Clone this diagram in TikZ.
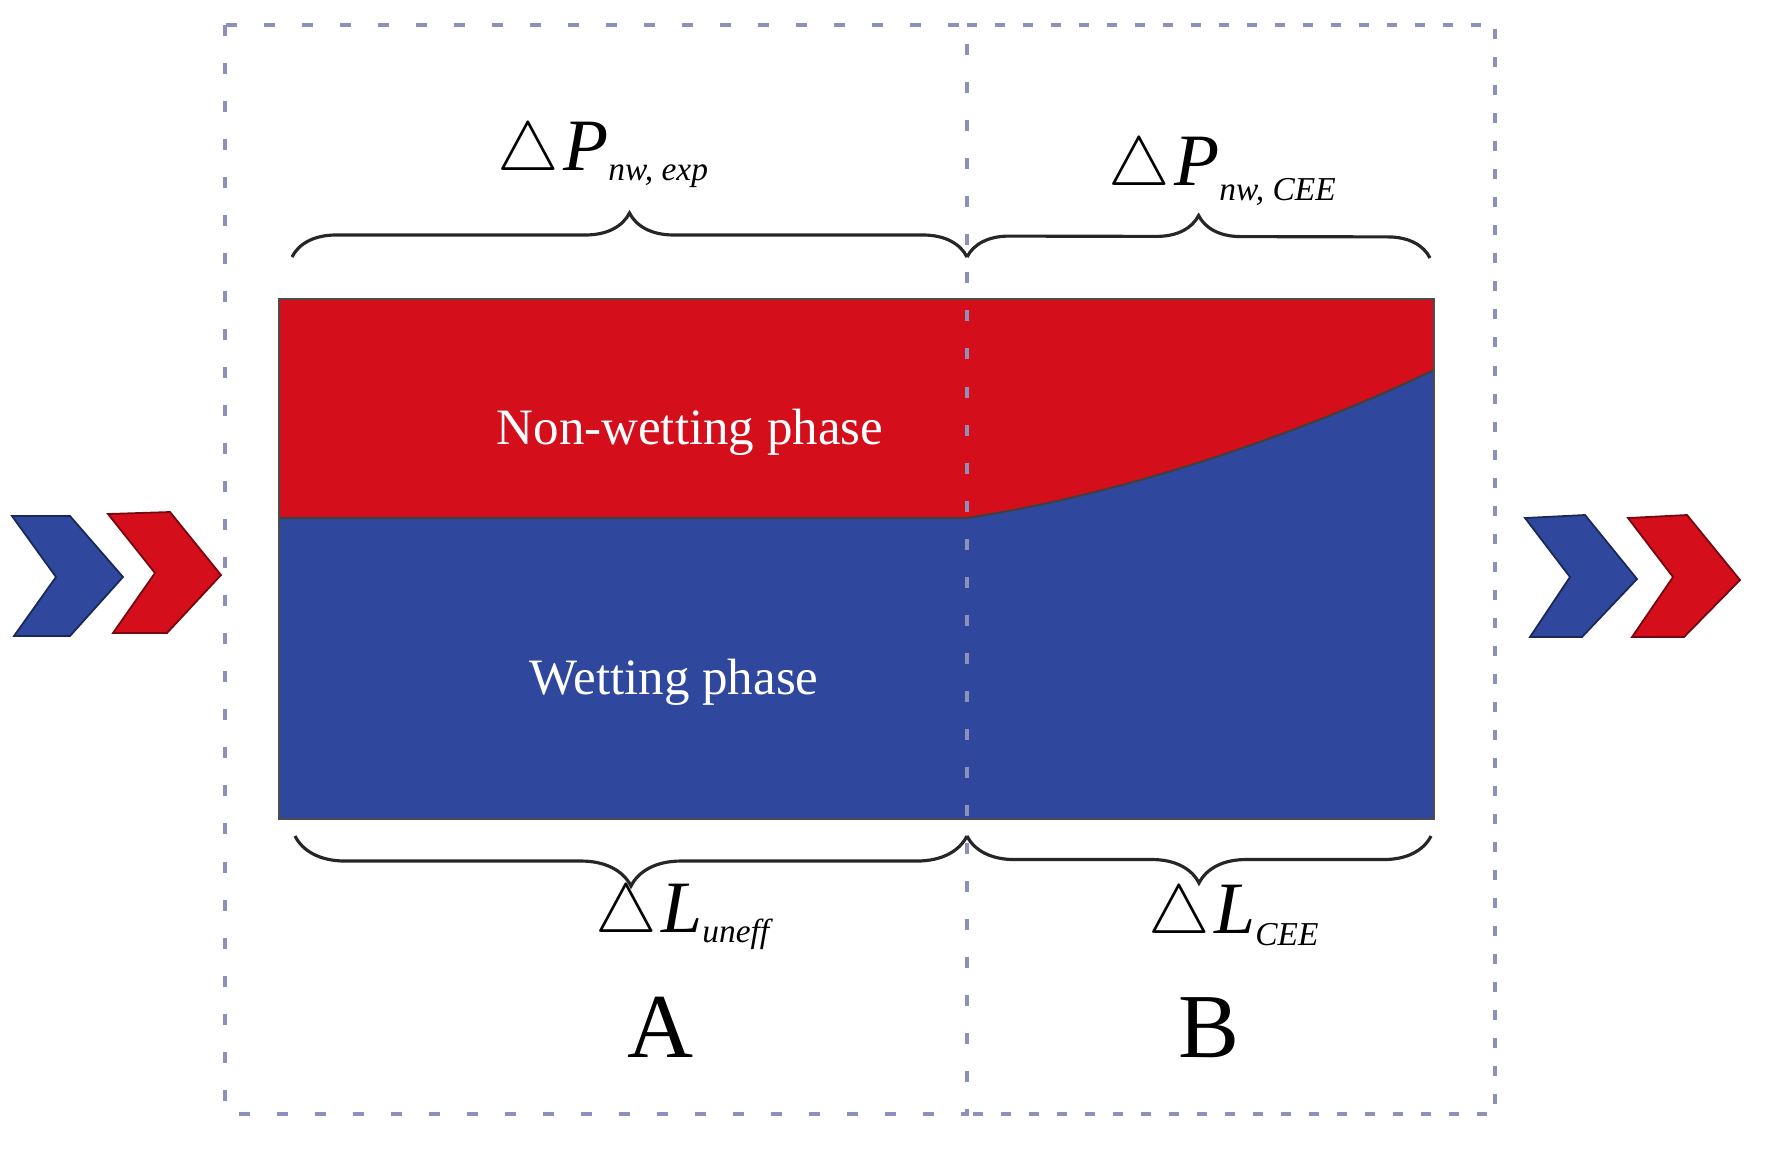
\documentclass[tikz,border=0pt]{standalone}
\usepackage{fontspec}
\setmainfont{Liberation Serif}
\usetikzlibrary{decorations.pathreplacing}
\definecolor{nwred}{RGB}{213,14,28}
\definecolor{wblue}{RGB}{47,72,158}
\definecolor{dashc}{RGB}{140,144,186}
\newcommand{\tri}{\scalebox{0.95}{$\triangle$}}
\newcommand{\subtxt}[2]{\raisebox{#1}{\fontsize{9.5}{10}\selectfont\textit{#2}}}
\begin{document}
\begin{tikzpicture}[x=0.01cm,y=-0.01cm,
  boxline/.style={dashc, line width=1.1pt, dash pattern=on 0.11cm off 0.27cm},
  boxlineB/.style={dashc, line width=1.1pt, dash pattern=on 0.10cm off 0.18cm},
  brc/.style={decorate, line width=0.9pt, black!85},
  chevblue/.style={fill=wblue, draw=wblue!55!black, line width=0.5pt},
  chevred/.style={fill=nwred, draw=nwred!55!black, line width=0.5pt},
  lbl/.style={inner sep=0pt, anchor=base west, font=\fontsize{21}{24}\selectfont},
  phase/.style={inner sep=0pt, anchor=base, white, font=\fontsize{14.5}{17}\selectfont},
  region/.style={inner sep=0pt, anchor=base, font=\fontsize{26}{30}\selectfont}]
\useasboundingbox (0,0) rectangle (1767,1154);
\fill[white] (0,0) rectangle (1767,1154);

% main channel
\coordinate (rTL) at (279,299);
\coordinate (rBR) at (1434,819);
\coordinate (mid) at (967,518);
\coordinate (cEnd) at (1434,370);
\fill[nwred] (279,299) rectangle (967,518);
\fill[wblue] (279,518) rectangle (967,819);
\fill[nwred] (967,299) -- (1434,299) -- (cEnd) .. controls (1330,420) and (1150,490) .. (mid) -- cycle;
\fill[wblue] (mid) .. controls (1150,490) and (1330,420) .. (cEnd) -- (1434,819) -- (967,819) -- cycle;
\draw[line width=0.6pt, black!75] (279,518) -- (mid) .. controls (1150,490) and (1330,420) .. (cEnd);
\draw[line width=0.7pt, black!70] (rTL) rectangle (rBR);

% dashed boxes
\draw[boxline] (225,25) rectangle (967,1114);
\draw[boxlineB] (967,25) -- (1495,25) -- (1495,1114) -- (967,1114);

% phase labels
\node[phase] (nwlab) at (690,444) {Non-wetting phase};
\node[phase] (wlab) at (674,694) {Wetting phase};

% braces
\coordinate (tb1) at (292,257);
\coordinate (tb2) at (967,257);
\coordinate (tb3) at (1430,258);
\coordinate (bb1) at (295,836);
\coordinate (bb2) at (967,836);
\coordinate (bb3) at (1431,836);
\draw[brc, decoration={brace, amplitude=0.44cm}] (tb1) -- (tb2);
\draw[brc, decoration={brace, amplitude=0.42cm}] (tb2) -- (tb3);
\draw[brc, decoration={brace, amplitude=0.5cm}] (bb2) -- (bb1);
\draw[brc, decoration={brace, amplitude=0.47cm}] (bb3) -- (bb2);

% formula labels
\node[lbl] (dpexp) at (497,170) {\tri\kern0.04cm\textit{P}\subtxt{-0.1cm}{nw, exp}};
\node[lbl] (dpcee) at (1108,185) {\tri\kern0.04cm\textit{P}\subtxt{-0.15cm}{nw, CEE}};
\node[lbl] (dluneff) at (595,932) {\tri\kern0.04cm\textit{L}\subtxt{-0.1cm}{uneff}};
\node[lbl] (dlcee) at (1148,933) {\tri\kern0.04cm\textit{L}\subtxt{-0.12cm}{CEE}};

% region labels
\node[region] (labA) at (661,1057) {A};
\node[region] (labB) at (1209,1057) {B};

% chevrons
\draw[chevblue] (12,516) -- (70,516) -- (123,577) -- (70,636) -- (14,636) -- (56,577) -- cycle;
\draw[chevred] (108,514) -- (170,512) -- (221,575) -- (167,633) -- (113,633) -- (155,573) -- cycle;
\draw[chevblue] (1525,518) -- (1585,515) -- (1637,579) -- (1582,637) -- (1530,637) -- (1570,577) -- cycle;
\draw[chevred] (1628,518) -- (1687,515) -- (1740,580) -- (1684,637) -- (1632,637) -- (1673,577) -- cycle;
\end{tikzpicture}
\end{document}
